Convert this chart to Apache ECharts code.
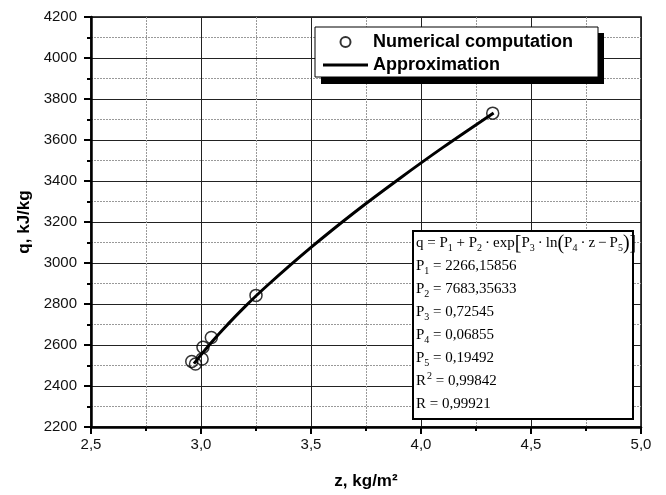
<!DOCTYPE html>
<html>
<head>
<meta charset="utf-8">
<script src="https://cdn.jsdelivr.net/npm/echarts@6/dist/echarts.min.js"></script>
<style>
  html, body { margin: 0; padding: 0; background: #fff; }
  #chart-container { width: 666px; height: 495px; }
</style>
</head>
<body>
<div id="chart-container"></div>
<script>
// numerical computation points (z, q)
const numZ = [2.958, 2.975, 3.005, 3.009, 3.047, 3.25, 4.326];
const numQ = [2520, 2507, 2532, 2589, 2637, 2842, 3731];

// approximation curve
const approxZ = [2.968, 3.0, 3.05, 3.1, 3.2, 3.3, 3.5, 3.7, 3.9, 4.1, 4.33];
const approxQ = [2509, 2552, 2616, 2676, 2787, 2889, 3076, 3249, 3410, 3564, 3732];

// fit parameters shown in the text box
const paramNames = ['P{s|1}', 'P{s|2}', 'P{s|3}', 'P{s|4}', 'P{s|5}', 'R{p|2}', 'R'];
const paramValues = ['2266,15856', '7683,35633', '0,72545', '0,06855', '0,19492', '0,99842', '0,99921'];

const chartContainer = document.getElementById('chart-container');
const chart = echarts.init(chartContainer);

const numData = numZ.map((z, i) => [z, numQ[i]]);
const approxData = approxZ.map((z, i) => [z, approxQ[i]]);

const sans = '"Liberation Sans", Arial, sans-serif';
const serif = '"Liberation Serif", "Times New Roman", serif';
const dot = '\u2009·\u2009';

const boxLines = ['q = P{s|1} + P{s|2}' + dot + 'exp{b|[}P{s|3}' + dot + 'ln{b|(}P{s|4}' + dot + 'z\u2009−\u2009P{s|5}{b|)}{b|]}']
  .concat(paramNames.map((n, i) => n + ' = ' + paramValues[i]));

const axisCommon = {
  axisLine: { lineStyle: { color: '#000', width: 2.5 } },
  axisTick: { inside: false, length: 7, lineStyle: { color: '#000', width: 2 } },
  minorTick: { show: true, splitNumber: 2, length: 4, lineStyle: { color: '#000', width: 2 } },
  splitLine: { show: true, lineStyle: { color: '#222', width: 1 } },
  minorSplitLine: { show: true, lineStyle: { color: '#999', width: 1, type: [2, 1] } },
  nameTextStyle: { fontFamily: sans, fontWeight: 'bold', fontSize: 17, color: '#000' }
};

const option = {
  animation: false,
  backgroundColor: '#fff',
  grid: {
    left: 91, top: 17, right: 25, bottom: 67,
    show: true, borderColor: '#000', borderWidth: 1.5, backgroundColor: 'transparent'
  },
  xAxis: Object.assign({}, axisCommon, {
    type: 'value', min: 2.5, max: 5.0, interval: 0.5,
    name: 'z, kg/m²', nameLocation: 'middle', nameGap: 46,
    axisLabel: {
      margin: 10, fontFamily: sans, fontSize: 15, color: '#111',
      formatter: v => v.toFixed(1).replace('.', ',')
    }
  }),
  yAxis: Object.assign({}, axisCommon, {
    type: 'value', min: 2200, max: 4200, interval: 200,
    name: 'q, kJ/kg', nameLocation: 'middle', nameGap: 57, nameRotate: 90,
    axisLabel: { margin: 14, fontFamily: sans, fontSize: 15, color: '#111', formatter: v => String(v) }
  }),
  legend: {
    orient: 'vertical', left: 323, top: 32,
    itemWidth: 45, itemHeight: 10, itemGap: 3,
    padding: 0,
    textStyle: { fontFamily: sans, fontWeight: 'bold', fontSize: 18, color: '#000', lineHeight: 20 },
    data: [
      { name: 'Numerical computation' },
      { name: 'Approximation', icon: 'path://M0,0 L45,0 L45,3 L0,3 Z' }
    ]
  },
  graphic: [
    // legend frame with drop shadow
    { type: 'rect', z: 1, shape: { x: 321, y: 33, width: 283, height: 51 }, style: { fill: '#000' } },
    { type: 'rect', z: 1, shape: { x: 315, y: 27, width: 283, height: 50 },
      style: { fill: '#fff', stroke: '#000', lineWidth: 1 } },
    // parameter box
    { type: 'rect', z: 10, shape: { x: 413, y: 231, width: 220, height: 188 },
      style: { fill: '#fff', stroke: '#000', lineWidth: 2 } },
    { type: 'text', z: 11, x: 416, y: 232,
      style: {
        text: boxLines.join('\n'),
        font: '15px ' + serif, fill: '#000', lineHeight: 23,
        rich: {
          s: { fontSize: 10, fontFamily: serif, verticalAlign: 'middle', padding: [10, 0, 0, 0] },
          p: { fontSize: 10, fontFamily: serif, verticalAlign: 'middle', padding: [0, 0, 10, 1] },
          b: { fontSize: 20, fontFamily: serif, lineHeight: 23 }
        }
      } }
  ],
  series: [
    {
      name: 'Numerical computation', type: 'scatter', data: numData, z: 5,
      symbol: 'circle', symbolSize: 12,
      itemStyle: { color: 'rgba(255,255,255,0)', borderColor: '#000', borderWidth: 1.5 }
    },
    {
      name: 'Approximation', type: 'line', data: approxData, z: 4,
      smooth: 0.3, showSymbol: false, symbol: 'none',
      lineStyle: { color: '#000', width: 3 }, itemStyle: { color: '#000' }
    }
  ]
};

chart.setOption(option);
</script>
</body>
</html>
